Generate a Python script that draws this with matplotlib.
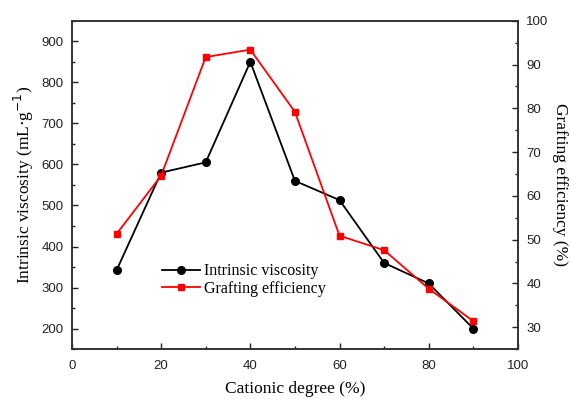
import matplotlib
matplotlib.use("Agg")
import matplotlib.pyplot as plt
from matplotlib.ticker import MultipleLocator

cationic_degree = [10, 20, 30, 40, 50, 60, 70, 80, 90]
viscosity = [342, 580, 605, 850, 560, 513, 360, 310, 200]
grafting = [51.3, 64.6, 91.7, 93.4, 79.2, 50.9, 47.6, 38.8, 31.4]

plt.rcParams['font.family'] = 'Liberation Sans'
serif = 'Liberation Serif'

fig = plt.figure(figsize=(5.71, 3.99), dpi=100)
ax = fig.add_axes([0.126, 0.125, 0.781, 0.823])
ax2 = ax.twinx()

l1, = ax.plot(cationic_degree, viscosity, color='black', marker='o',
              markersize=5.5, linewidth=1.3, label='Intrinsic viscosity')
l2, = ax2.plot(cationic_degree, grafting, color='red', marker='s',
               markersize=5, linewidth=1.3, label='Grafting efficiency')

ax.set_xlim(0, 100)
ax.set_ylim(150, 950)
ax2.set_ylim(25, 100)

ax.xaxis.set_major_locator(MultipleLocator(20))
ax.xaxis.set_minor_locator(MultipleLocator(10))
ax.yaxis.set_major_locator(MultipleLocator(100))
ax.yaxis.set_minor_locator(MultipleLocator(50))
ax2.yaxis.set_major_locator(MultipleLocator(10))
ax2.yaxis.set_minor_locator(MultipleLocator(5))

for a in (ax, ax2):
    a.tick_params(which='both', direction='in', labelsize=9.5, colors='#222222')
    a.tick_params(which='major', length=4, width=1)
    a.tick_params(which='minor', length=2.5, width=1)
    for s in a.spines.values():
        s.set_linewidth(1.2)
        s.set_color('#333333')
ax.tick_params(axis='x', which='major', pad=8)
ax.tick_params(axis='y', which='major', pad=6)
ax2.tick_params(axis='y', which='major', pad=6)

ax.set_xlabel('Cationic degree (%)', family=serif, fontsize=12.5, labelpad=6)
ax.set_ylabel('Intrinsic viscosity (mL$\\cdot$g$^{-1}$)', family=serif,
              fontsize=12.5, labelpad=4)
ax2.set_ylabel('Grafting efficiency (%)', family=serif, fontsize=12.5,
               rotation=270, labelpad=14)

ax.legend(handles=[l1, l2], loc='upper left', bbox_to_anchor=(0.17, 0.305),
          frameon=False, prop={'family': serif, 'size': 11.5},
          handlelength=2.4, handletextpad=0.2, labelspacing=0.1)

fig.savefig('out.png', dpi=100)
